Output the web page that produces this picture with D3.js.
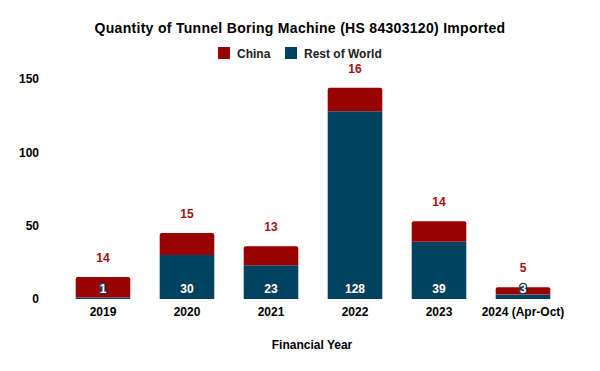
<!DOCTYPE html>
<html><head><meta charset="utf-8">
<script src="https://cdn.jsdelivr.net/npm/d3@7/dist/d3.min.js"></script>
<style>body{margin:0;background:#fff;}svg{display:block;font-family:"Liberation Sans",Arial,sans-serif;}</style>
</head><body>
<svg id="c" width="600" height="371"></svg>
<script>
const categories = ["2019","2020","2021","2022","2023","2024 (Apr-Oct)"];
const restOfWorld = [1,30,23,128,39,3];
const china = [14,15,13,16,14,5];
const yTicks = [0,50,100,150];
const seriesNames = ["China","Rest of World"];
const colors = {"China":"#990000","Rest of World":"#004261"};

const svg = d3.select("#c");
const x = d3.scaleBand().domain(categories).range([61,565]).paddingInner(0.35).paddingOuter(0.175);
const y = d3.scaleLinear().domain([0,150]).range([299,79]);

svg.append("text").attr("x",300).attr("y",33).attr("text-anchor","middle")
  .attr("font-size",14).attr("font-weight","bold").attr("fill","#000").attr("letter-spacing",0.3)
  .text("Quantity of Tunnel Boring Machine (HS 84303120) Imported");

// legend
const leg = [{n:"China",x:218},{n:"Rest of World",x:285}];
leg.forEach(l=>{
  svg.append("rect").attr("x",l.x).attr("y",47).attr("width",12).attr("height",12).attr("fill",colors[l.n]);
  svg.append("text").attr("x",l.x+19).attr("y",57.5).attr("font-size",12).attr("font-weight","bold").attr("fill","#222").text(l.n);
});

// y axis
const ya = svg.append("g").attr("transform","translate(39,0)")
  .call(d3.axisLeft(y).tickValues(yTicks).tickSize(0).tickPadding(0));
ya.select(".domain").remove();
ya.selectAll("text").attr("font-size",12).attr("font-weight","bold").attr("fill","#000").attr("font-family","Liberation Sans, Arial, sans-serif");

// x axis
const xa = svg.append("g").attr("transform","translate(0,299)")
  .call(d3.axisBottom(x).tickSize(0).tickPadding(8));
xa.select(".domain").remove();
xa.selectAll("text").attr("font-size",12).attr("font-weight","bold").attr("fill","#000").attr("font-family","Liberation Sans, Arial, sans-serif");

svg.append("text").attr("x",312).attr("y",349).attr("text-anchor","middle")
  .attr("font-size",12).attr("font-weight","bold").attr("fill","#000").text("Financial Year");

const bw = x.bandwidth();
const r = 2;
categories.forEach((c,i)=>{
  const x0 = x(c);
  const yRow = y(restOfWorld[i]);
  const yTop = y(restOfWorld[i]+china[i]);
  svg.append("rect").attr("x",x0).attr("y",yRow).attr("width",bw).attr("height",y(0)-yRow).attr("fill",colors["Rest of World"]);
  const p = d3.path();
  p.moveTo(x0, yRow);
  p.lineTo(x0, yTop + r);
  p.quadraticCurveTo(x0, yTop, x0 + r, yTop);
  p.lineTo(x0 + bw - r, yTop);
  p.quadraticCurveTo(x0 + bw, yTop, x0 + bw, yTop + r);
  p.lineTo(x0 + bw, yRow);
  p.closePath();
  svg.append("path").attr("d",p.toString()).attr("fill",colors["China"]);
});

// labels
categories.forEach((c,i)=>{
  const cx = x(c)+bw/2;
  svg.append("text").attr("x",cx).attr("y",y(restOfWorld[i]+china[i])-15)
    .attr("text-anchor","middle").attr("font-size",12).attr("font-weight","bold").attr("fill","#a50f0f").text(china[i]);
  svg.append("text").attr("x",cx).attr("y",y(0)-6)
    .attr("text-anchor","middle").attr("font-size",12).attr("font-weight","bold")
    .attr("fill","#fff").attr("stroke","#0d3f57").attr("stroke-width",2.5).attr("paint-order","stroke")
    .attr("stroke-linejoin","round").text(restOfWorld[i]);
});
</script>
</body></html>
